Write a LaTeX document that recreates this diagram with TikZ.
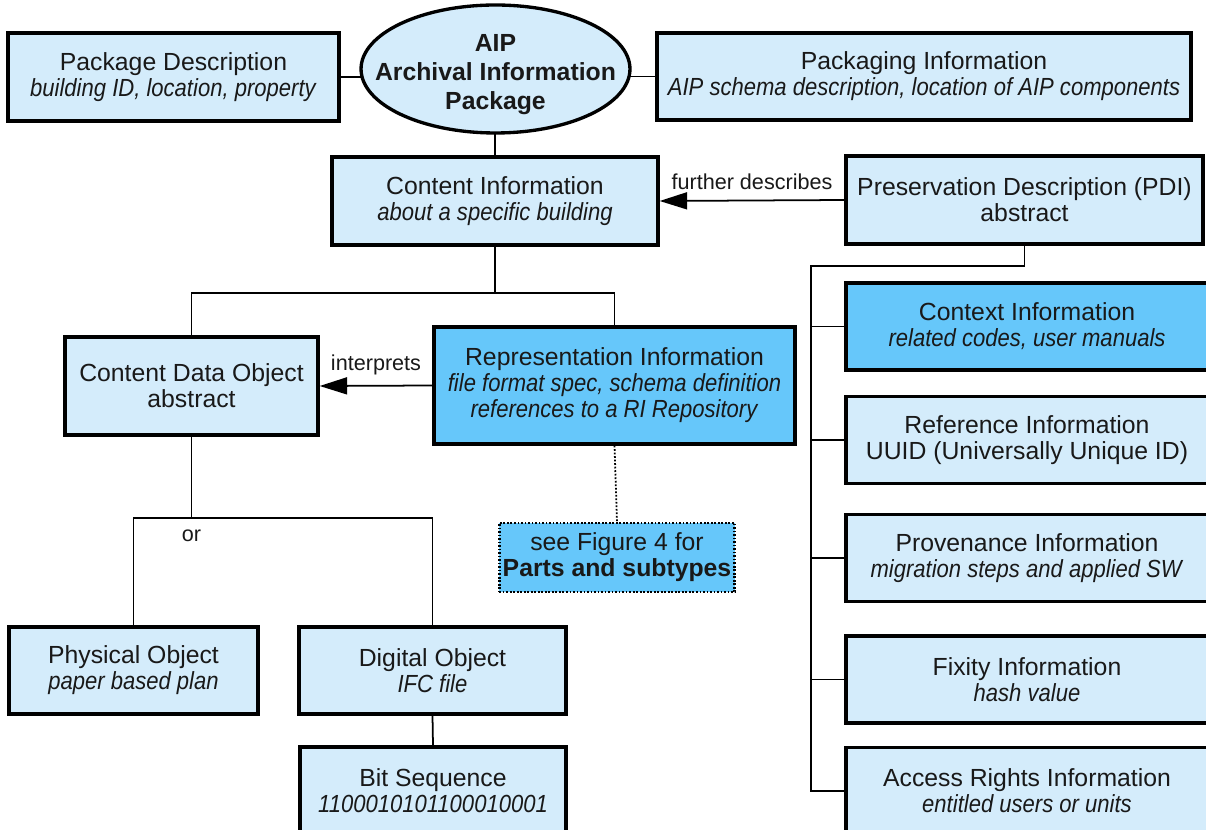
\documentclass[tikz,border=0pt]{standalone}
\usepackage{fontspec}
\setmainfont{Liberation Sans}[ItalicFeatures={FakeStretch=0.89}]
\usepackage{tikz}
\usetikzlibrary{shapes.geometric, arrows.meta, positioning, backgrounds}
\definecolor{lightblue}{RGB}{212,236,251}
\definecolor{deepblue}{RGB}{102,199,250}

\begin{document}
\begin{tikzpicture}[
    x=0.02cm, y=-0.02cm,
    box/.style={rectangle, draw, line width=1.9pt, fill=lightblue, align=center, inner sep=2pt, text=black!90, font=\fontsize{14.1}{14.8}\selectfont},
    hibox/.style={box, fill=deepblue},
    figbox/.style={box, fill=deepblue, line width=1.6pt, dash pattern=on 1pt off 1pt},
    aipshape/.style={ellipse, draw, line width=1.9pt, fill=lightblue, inner sep=0pt},
    aiptext/.style={align=center, text=black!90, font=\bfseries\fontsize{14.1}{16.5}\selectfont},
    lbl/.style={text=black!90, font=\fontsize{12.3}{14}\selectfont},
    conn/.style={line width=1pt},
    arrow/.style={conn, -{Triangle[length=5.5mm, width=3.4mm]}},
    dotline/.style={conn, dash pattern=on 1pt off 1pt}
]
\useasboundingbox (0,0) rectangle (1206,830);

% Nodes
\node[box, minimum width=6.62cm, minimum height=1.76cm] (pkgdesc) at (173.5,77) {Package Description\\\textit{building ID, location, property}};
\node[aipshape, minimum width=5.38cm, minimum height=2.56cm] (aip) at (495.5,69) {};
\node[aiptext] (aiptxt) at (495.5,75) {AIP\\Archival Information\\Package};
\node[box, minimum width=10.68cm, minimum height=1.74cm] (packinfo) at (924,76.5) {Packaging Information\\\textit{AIP schema description, location of AIP components}};
\node[box, minimum width=6.52cm, minimum height=1.76cm] (ci) at (495,201) {Content Information\\\textit{about a specific building}};
\node[box, minimum width=7.14cm, minimum height=1.76cm] (pdi) at (1024.5,200) {Preservation Description (PDI)\\abstract};

\node[hibox, minimum width=7.24cm, minimum height=1.74cm] (context) at (1027,326.5) {Context Information\\\textit{related codes, user manuals}};
\node[box, minimum width=7.24cm, minimum height=1.74cm] (reference) at (1027,440) {Reference Information\\UUID (Universally Unique ID)};
\node[box, minimum width=7.24cm, minimum height=1.74cm] (provenance) at (1027,558) {Provenance Information\\\textit{migration steps and applied SW}};
\node[box, minimum width=7.24cm, minimum height=1.74cm] (fixity) at (1027,679.5) {Fixity Information\\\textit{hash value}};
\node[box, minimum width=7.24cm, minimum height=1.74cm] (access) at (1027,791) {Access Rights Information\\\textit{entitled users or units}};

\node[box, minimum width=5.06cm, minimum height=1.96cm] (cdo) at (191.5,386) {Content Data Object\\abstract};
\node[hibox, minimum width=7.22cm, minimum height=2.34cm] (repinfo) at (614.5,385.5) {Representation Information\\\textit{file format spec, schema definition}\\\textit{references to a RI Repository}};
\node[figbox, minimum width=4.56cm, minimum height=1.38cm] (figref) at (617,557.5) {see Figure 4 for\\\textbf{Parts and subtypes}};

\node[box, minimum width=4.98cm, minimum height=1.74cm] (physical) at (133.5,670.5) {Physical Object\\\textit{paper based plan}};
\node[box, minimum width=5.34cm, minimum height=1.74cm] (digital) at (432.5,670.5) {Digital Object\\\textit{IFC file}};
\node[box, minimum width=5.32cm, minimum height=1.74cm] (bitseq) at (433,790.5) {Bit Sequence\\\textit{1100010101100010001}};

% Branch points
\coordinate (cisplit) at (495,293);
\coordinate (pditop) at (811,266);
\coordinate (orsplit) at (191.5,518);

% Lines
\begin{scope}[on background layer]
\draw[conn] (pkgdesc.east) -- (aip.center |- pkgdesc.east);
\draw[conn] (packinfo.west) -- (aip.center |- packinfo.west);
\draw[conn] (ci.north) -- (aip.center -| ci.north);
\draw[conn] (ci.south) -- (cisplit);
\draw[conn] (cdo.north) |- (cisplit) -| (repinfo.north);
\draw[conn] (pdi.south) |- (pditop) -- (pditop |- access.west) -- (access.west);
\foreach \b in {context, reference, provenance, fixity}
    \draw[conn] (pditop |- \b.west) -- (\b.west);
\draw[conn] (cdo.south) -- (orsplit);
\draw[conn] (physical.north) |- (orsplit) -| (digital.north);
\draw[conn] (digital.south) -- (bitseq.north);
\end{scope}

% Arrows
\draw[arrow] (pdi.west) -- node[lbl, above=2.5pt] {further describes} (ci.east);
\draw[arrow] (repinfo.west) -- node[lbl, above=2.5pt] {interprets} (cdo.east);
\draw[dotline] (repinfo.south) -- (figref.north);
\node[lbl, below=3pt of orsplit] (ortxt) {or};
\end{tikzpicture}
\end{document}
